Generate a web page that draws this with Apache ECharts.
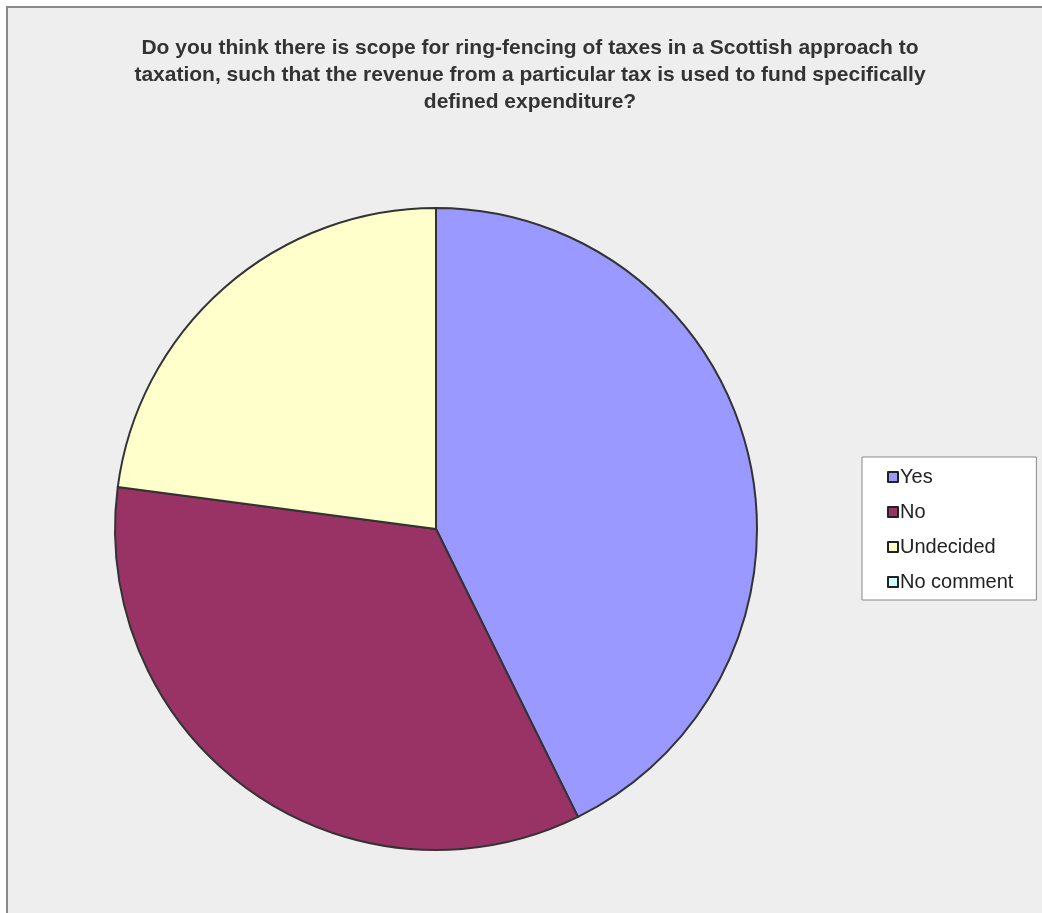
<!DOCTYPE html>
<html>
<head>
<meta charset="utf-8">
<script src="https://cdn.jsdelivr.net/npm/echarts@6/dist/echarts.min.js"></script>
<style>
html,body{margin:0;padding:0;background:#ffffff;width:1042px;height:913px;overflow:hidden;}
#chart{position:absolute;left:6px;top:6px;width:1042px;height:913px;background:#eeeeee;border-left:2px solid #8a8a8a;border-top:2px solid #8a8a8a;box-sizing:border-box;}
</style>
</head>
<body>
<div id="chart"></div>
<script>
var titleText = "Do you think there is scope for ring-fencing of taxes in a Scottish approach to\ntaxation, such that the revenue from a particular tax is used to fund specifically\ndefined expenditure?";
var categories = ["Yes", "No", "Undecided", "No comment"];
var values = [41, 33, 22, 0];
var colors = ["#9999ff", "#993366", "#ffffcc", "#ccffff"];

var chart = echarts.init(document.getElementById('chart'), null, {renderer: 'canvas'});
var data = categories.map(function(c, i){
  return {name: c, value: values[i], itemStyle: {color: colors[i]}};
});
chart.setOption({
  backgroundColor: 'transparent',
  animation: false,
  title: {
    text: titleText,
    left: 517,
    textAlign: 'center',
    top: 22,
    textStyle: {
      fontFamily: 'Liberation Sans, Arial, sans-serif',
      fontSize: 21,
      fontWeight: 'bold',
      color: '#333333',
      lineHeight: 27
    }
  },
  legend: {
    orient: 'vertical',
    left: 854,
    top: 449,
    data: categories,
    icon: 'rect',
    itemWidth: 10,
    itemHeight: 10,
    itemGap: 15,
    padding: [10, 23, 8, 25],
    backgroundColor: '#ffffff',
    borderColor: '#888888',
    borderWidth: 1,
    itemStyle: {borderColor: '#222222', borderWidth: 2},
    textStyle: {
      fontFamily: 'Liberation Sans, Arial, sans-serif',
      fontSize: 20,
      color: '#222222',
      padding: [0, 0, 0, -3],
      lineHeight: 20
    },
    selectedMode: false
  },
  series: [{
    type: 'pie',
    center: [428, 521],
    radius: 321,
    startAngle: 90,
    clockwise: true,
    label: {show: false},
    labelLine: {show: false},
    silent: true,
    itemStyle: {borderColor: '#333333', borderWidth: 2},
    data: data
  }]
});
</script>
</body>
</html>
